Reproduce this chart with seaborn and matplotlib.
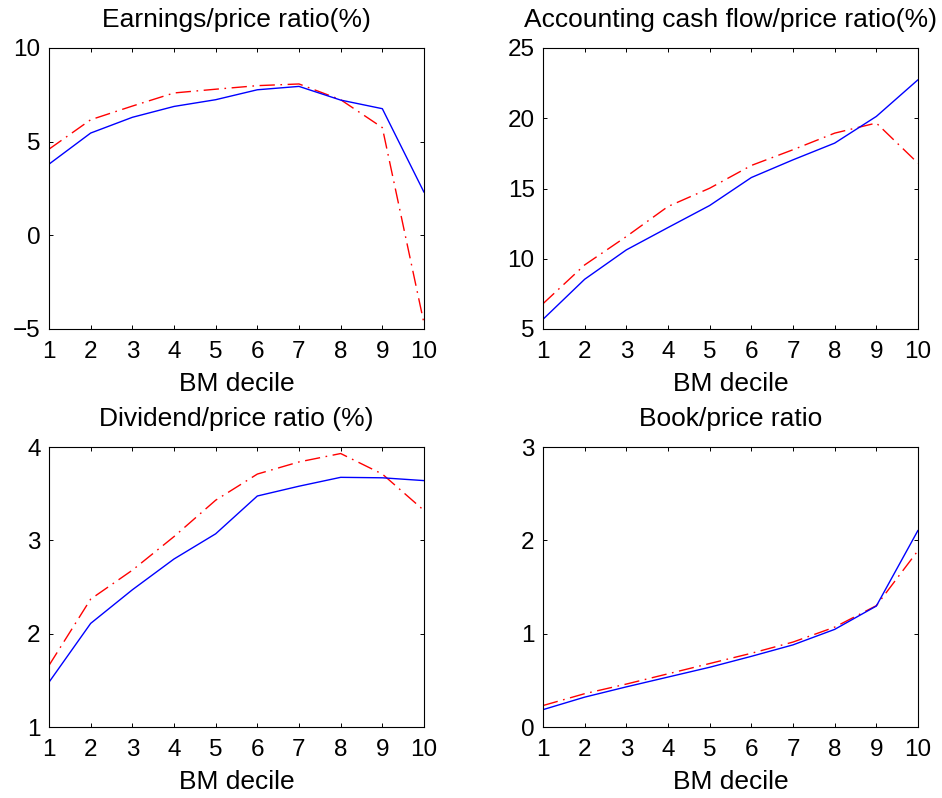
import numpy as np
import pandas as pd
import matplotlib
matplotlib.use("Agg")
import matplotlib.pyplot as plt
import seaborn as sns

deciles = list(range(1, 11))

titles = [
    "Earnings/price ratio(%)",
    "Accounting cash flow/price ratio(%)",
    "Dividend/price ratio (%)",
    "Book/price ratio",
]

ep_solid = [3.80, 5.46, 6.30, 6.88, 7.24, 7.77, 7.95, 7.22, 6.76, 2.30]
ep_dash = [4.60, 6.17, 6.90, 7.60, 7.80, 7.99, 8.08, 7.24, 5.75, -4.70]

cf_solid = [5.69, 8.54, 10.63, 12.22, 13.79, 15.78, 17.04, 18.23, 20.13, 22.74]
cf_dash = [6.80, 9.56, 11.58, 13.72, 15.02, 16.64, 17.76, 18.94, 19.66, 16.80]

dp_solid = [1.48, 2.11, 2.47, 2.80, 3.07, 3.475, 3.58, 3.675, 3.67, 3.64]
dp_dash = [1.66, 2.37, 2.68, 3.04, 3.43, 3.71, 3.84, 3.93, 3.71, 3.32]

bp_solid = [0.186, 0.32, 0.43, 0.535, 0.64, 0.757, 0.88, 1.046, 1.296, 2.107]
bp_dash = [0.23, 0.357, 0.46, 0.57, 0.68, 0.79, 0.91, 1.07, 1.30, 1.89]

y_limits = [(-5, 10), (5, 25), (1, 4), (0, 3)]
y_ticks = [[-5, 0, 5, 10], [5, 10, 15, 20, 25], [1, 2, 3, 4], [0, 1, 2, 3]]
y_ticklabels = [["\u22125", "0", "5", "10"], ["5", "10", "15", "20", "25"],
                ["1", "2", "3", "4"], ["0", "1", "2", "3"]]

series = [(ep_solid, ep_dash), (cf_solid, cf_dash), (dp_solid, dp_dash), (bp_solid, bp_dash)]

sns.set_theme(style="ticks")
plt.rcParams["font.family"] = ["Liberation Sans", "DejaVu Sans"]
plt.rcParams["lines.scale_dashes"] = False
plt.rcParams["axes.edgecolor"] = "black"
plt.rcParams["text.color"] = "black"
plt.rcParams["axes.labelcolor"] = "black"

fig = plt.figure(figsize=(9.42, 7.98), dpi=100)
W, H = 942, 798
boxes = [(49, 48, 424, 329), (543, 48, 918, 329), (49, 447, 424, 727), (543, 447, 918, 727)]

for i, (box, (solid, dash)) in enumerate(zip(boxes, series)):
    l, t, r, b = box
    ax = fig.add_axes([l / W, 1 - b / H, (r - l) / W, (b - t) / H])
    df = pd.DataFrame({"decile": deciles, "solid": solid, "dash": dash})
    sns.lineplot(data=df, x="decile", y="dash", ax=ax, color="#ff0000", lw=1.0,
                 linestyle=(0, (11, 4, 1.2, 4)))
    sns.lineplot(data=df, x="decile", y="solid", ax=ax, color="#0000ff", lw=1.0)
    ax.set_xlim(1, 10)
    ax.set_ylim(*y_limits[i])
    ax.set_xticks(deciles)
    ax.set_xticklabels([str(d) for d in deciles])
    ax.set_yticks(y_ticks[i])
    ax.set_yticklabels(y_ticklabels[i])
    ax.set_xlabel("BM decile", fontsize=19, labelpad=6, color="black")
    ax.set_ylabel("")
    ax.set_title(titles[i], fontsize=19, pad=15, color="black")
    for sp in ax.spines.values():
        sp.set_visible(True)
        sp.set_linewidth(0.8)
        sp.set_color("black")
    ax.tick_params(direction="in", top=True, right=True, length=3, width=0.7,
                   labelsize=17.5, pad=6, colors="black")
    ax.tick_params(axis="x", pad=9)
    ax.set_facecolor("white")

fig.savefig("out.png", dpi=100, facecolor="white")
